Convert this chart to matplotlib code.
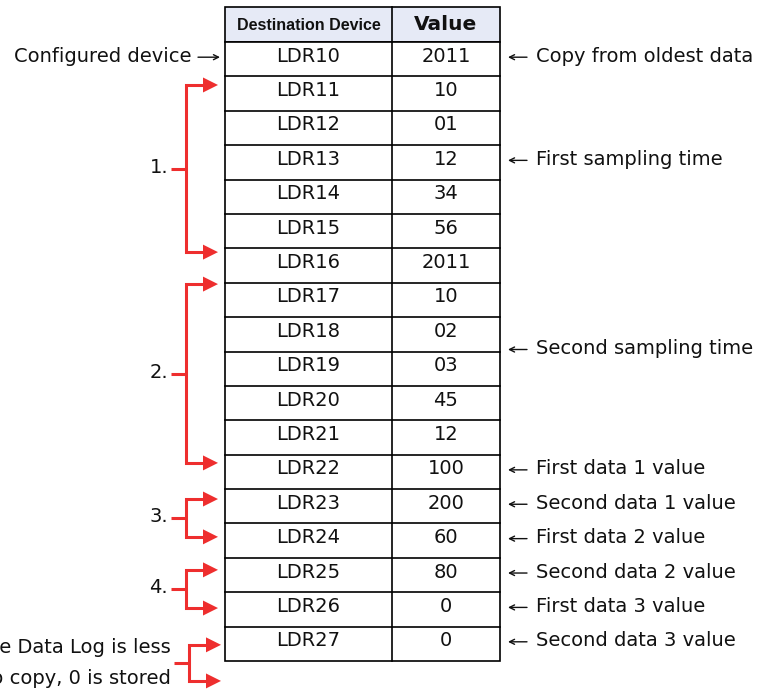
import matplotlib
matplotlib.use("Agg")
import matplotlib.pyplot as plt
from matplotlib.patches import Rectangle, Polygon

# ---- data ----
devices = ["LDR10", "LDR11", "LDR12", "LDR13", "LDR14", "LDR15", "LDR16", "LDR17", "LDR18",
           "LDR19", "LDR20", "LDR21", "LDR22", "LDR23", "LDR24", "LDR25", "LDR26", "LDR27"]
values = ["2011", "10", "01", "12", "34", "56", "2011", "10", "02",
          "03", "45", "12", "100", "200", "60", "80", "0", "0"]
headers = ["Destination Device", "Value"]
right_notes = [(0, "Copy from oldest data"), (3, "First sampling time"), (8.5, "Second sampling time"),
               (12, "First data 1 value"), (13, "Second data 1 value"), (14, "First data 2 value"),
               (15, "Second data 2 value"), (16, "First data 3 value"), (17, "Second data 3 value")]
left_note = "Configured device"
# brackets: (label, first row, last row)
brackets = [("1.", 1, 6), ("2.", 7, 12), ("3.", 13, 14), ("4.", 15, 16),
            ("If the number of data in the Data Log is less\nthan the number of data to copy, 0 is stored", 17, 18)]
# arrow offsets within the rows (fraction of a row height)
bracket_offsets = [(0.25, 0.11), (0.04, 0.24), (0.29, 0.39), (0.35, 0.46), (0.53, 0.58)]

# ---- layout ----
W, H = 769, 692
fig = plt.figure(figsize=(W / 100, H / 100), dpi=100)
ax = fig.add_axes([0, 0, 1, 1])
ax.set_xlim(0, W)
ax.set_ylim(H, 0)
ax.axis("off")

x0, xm, x1 = 225, 392, 500
head_top, head_bot = 7, 42
rh = (661 - head_bot) / len(devices)
red = "#EE2E2E"
fs = 14
fam = ["DejaVu Sans"]
tcol = "#111111"

def row_top(i):
    return head_bot + i * rh

def row_mid(i):
    return head_bot + (i + 0.5) * rh

# header
ax.add_patch(Rectangle((x0, head_top), x1 - x0, head_bot - head_top, facecolor="#E6EAF6",
                       edgecolor="black", lw=1.2))
ax.plot([xm, xm], [head_top, head_bot], color="black", lw=1.2)
ax.text((x0 + xm) / 2, (head_top + head_bot) / 2 + 0.5, headers[0], ha="center", va="center",
        fontsize=11.5, fontweight="bold", family=["Liberation Sans", "DejaVu Sans"], color=tcol)
ax.text((xm + x1) / 2, (head_top + head_bot) / 2 + 0.5, headers[1], ha="center", va="center",
        fontsize=14.5, fontweight="bold", family=fam, color=tcol)

# body
n = len(devices)
ax.add_patch(Rectangle((x0, head_bot), x1 - x0, n * rh, facecolor="white", edgecolor="black", lw=1.2))
ax.plot([xm, xm], [head_bot, row_top(n)], color="black", lw=1.2)
for i in range(1, n):
    ax.plot([x0, x1], [row_top(i), row_top(i)], color="black", lw=1.2)
for i, (d, v) in enumerate(zip(devices, values)):
    ax.text((x0 + xm) / 2, row_mid(i) - 3, d, ha="center", va="center", fontsize=fs, family=fam, color=tcol)
    ax.text((xm + x1) / 2, row_mid(i) - 3, v, ha="center", va="center", fontsize=fs, family=fam, color=tcol)

def thin_arrow(xa, xb, y):
    ax.annotate("", xy=(xb, y), xytext=(xa, y),
                arrowprops=dict(arrowstyle="->", lw=1.0, color=tcol, mutation_scale=9,
                                shrinkA=0, shrinkB=0))

for i, t in right_notes:
    y = row_mid(i) - 3
    thin_arrow(527, 508, y + 1)
    ax.text(536, y, t, ha="left", va="center", fontsize=fs, family=fam, color=tcol)
y = row_mid(0) - 3
ax.text(191, y, left_note, ha="right", va="center", fontsize=fs, family=fam, color=tcol)
thin_arrow(198, 220, y + 1)

# brackets
def arrow_head(x_tip, y):
    ax.add_patch(Polygon([[x_tip - 15, y - 7.5], [x_tip, y], [x_tip - 15, y + 7.5]],
                         closed=True, facecolor=red, edgecolor="none"))

for k, ((lab, a, b), (oa, ob)) in enumerate(zip(brackets, bracket_offsets)):
    ya = row_top(a) + oa * rh
    yb = row_top(b) + ob * rh
    xv = 186 if k < 4 else 189
    xs = xv - 15
    ym = (ya + yb) / 2
    ax.plot([xv + 17, xv, xv, xv + 17], [ya, ya, yb, yb], color=red, lw=2.2,
            solid_joinstyle="miter", solid_capstyle="butt")
    ax.plot([xs, xv], [ym, ym], color=red, lw=2.2, solid_capstyle="butt")
    arrow_head(xv + 32, ya)
    arrow_head(xv + 32, yb)
    ax.text(xs - 3, ym + (-1 if k < 4 else 0), lab, ha="right", va="center", fontsize=fs, family=fam,
            linespacing=1.75, multialignment="right", color=tcol)

fig.savefig("out.png", dpi=100)
